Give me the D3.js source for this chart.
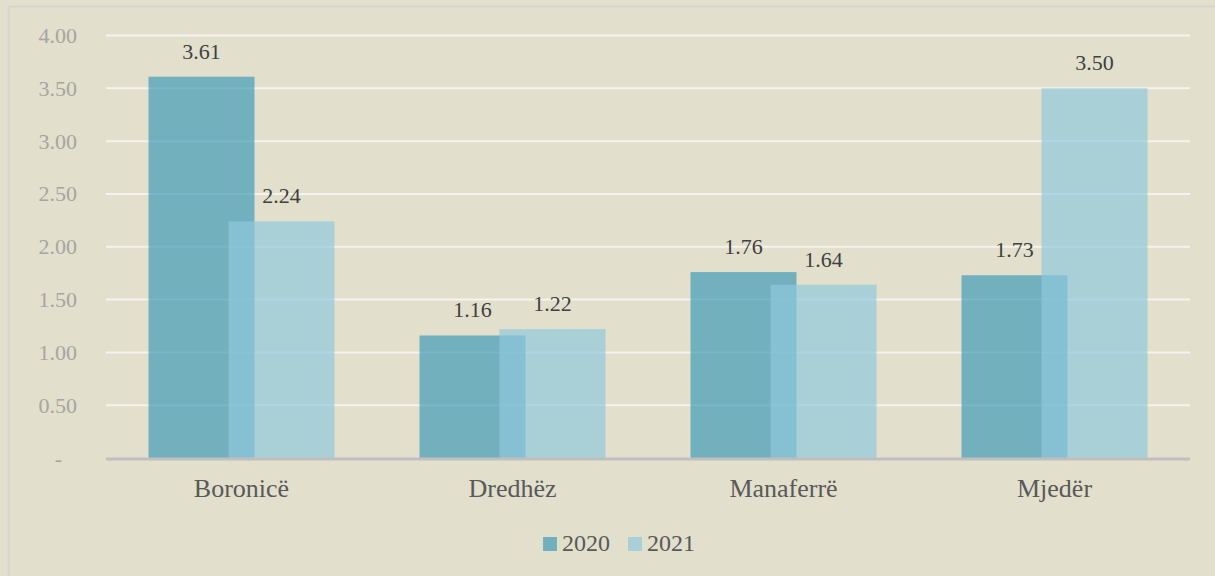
<html>
<head>
<style>
  body { margin: 0; background: #e2dfcc; }
  svg { display: block; }
</style>
</head>
<body>
<svg></svg>
<script src="https://d3js.org/d3.v7.min.js"></script>
<script>
// chart data
const categories = ["Boronicë", "Dredhëz", "Manaferrë", "Mjedër"];
const years = ["2020", "2021"];
const values2020 = [3.61, 1.16, 1.76, 1.73];
const values2021 = [2.24, 1.22, 1.64, 3.50];
const yTicks = [0, 0.5, 1, 1.5, 2, 2.5, 3, 3.5, 4];

const width = 1215, height = 576;
const font = "'Liberation Serif', 'DejaVu Serif', serif";

const svg = d3.select("svg")
    .attr("width", width)
    .attr("height", height);

// background and thin frame
svg.append("rect").attr("width", width).attr("height", height).attr("fill", "#e2dfcc");
svg.append("rect")
    .attr("x", 8.5).attr("y", 6.5)
    .attr("width", 1400).attr("height", 800)
    .attr("fill", "none").attr("stroke", "#d6d5d0").attr("stroke-width", 2);

const margin = {top: 0, left: 106, right: 25};
const plotRight = width - margin.right;

const x = d3.scaleBand()
    .domain(categories)
    .range([margin.left, plotRight]);

const y = d3.scaleLinear()
    .domain([0, 4])
    .range([458, 35.5]);

// bar geometry inside a band: bar width and overlap
const barW = x.bandwidth() * 0.391;
const overlap = barW * 0.245;
const groupW = barW * 2 - overlap;

// gridlines
svg.append("g")
    .selectAll("line")
    .data(yTicks.filter(d => d > 0))
    .join("line")
    .attr("x1", margin.left).attr("x2", plotRight)
    .attr("y1", d => y(d)).attr("y2", d => y(d))
    .attr("stroke", "#f4f3ee").attr("stroke-width", 2);

// y axis labels
const yAxis = svg.append("g")
    .attr("transform", "translate(77,0)")
    .call(d3.axisLeft(y).tickValues(yTicks).tickSize(0).tickPadding(0)
        .tickFormat(d => d === 0 ? "-" : d3.format(".2f")(d)));
yAxis.select(".domain").remove();
yAxis.selectAll("text")
    .attr("font-family", font).attr("font-size", 22)
    .attr("fill", "#a5a5a3").attr("dy", "0.32em");
yAxis.selectAll(".tick").filter(d => d === 0).select("text")
    .attr("x", -15);

const series = [
    {key: "2020", vals: values2020, fill: "rgb(64,155,183)", offset: 0},
    {key: "2021", vals: values2021, fill: "rgb(143,200,220)", offset: barW - overlap}
];

// bars
series.forEach(s => {
    svg.append("g")
        .selectAll("rect")
        .data(categories.map((c, i) => ({c: c, v: s.vals[i]})))
        .join("rect")
        .attr("x", d => x(d.c) + (x.bandwidth() - groupW) / 2 + s.offset)
        .attr("y", d => y(d.v))
        .attr("width", barW)
        .attr("height", d => y(0) - y(d.v))
        .attr("fill", s.fill)
        .attr("fill-opacity", 0.69);
});

// value labels
series.forEach(s => {
    svg.append("g")
        .selectAll("text")
        .data(categories.map((c, i) => ({c: c, v: s.vals[i]})))
        .join("text")
        .attr("x", d => x(d.c) + (x.bandwidth() - groupW) / 2 + s.offset + barW / 2)
        .attr("y", d => y(d.v) - 18)
        .attr("text-anchor", "middle")
        .attr("font-family", font).attr("font-size", 22)
        .attr("fill", "#404040")
        .text(d => d3.format(".2f")(d.v));
});

// x axis line
svg.append("line")
    .attr("x1", margin.left).attr("x2", plotRight)
    .attr("y1", y(0) + 1).attr("y2", y(0) + 1)
    .attr("stroke", "#bfbfbf").attr("stroke-width", 3);

// category labels
const xAxis = svg.append("g")
    .attr("transform", "translate(0," + y(0) + ")")
    .call(d3.axisBottom(x).tickSize(0).tickPadding(0));
xAxis.select(".domain").remove();
xAxis.selectAll("text")
    .attr("font-family", font).attr("font-size", 26)
    .attr("fill", "#595959")
    .attr("dy", 0).attr("y", 39);

// legend
const legend = svg.append("g").attr("transform", "translate(543,537)");
const legendX = [0, 85];
years.forEach((yr, i) => {
    const g = legend.append("g").attr("transform", "translate(" + legendX[i] + ",0)");
    g.append("rect")
        .attr("width", 14).attr("height", 14)
        .attr("fill", series[i].fill).attr("fill-opacity", 0.69);
    g.append("text")
        .attr("x", 19).attr("y", 14)
        .attr("font-family", font).attr("font-size", 24)
        .attr("fill", "#595959")
        .text(yr);
});
</script>
</body>
</html>
